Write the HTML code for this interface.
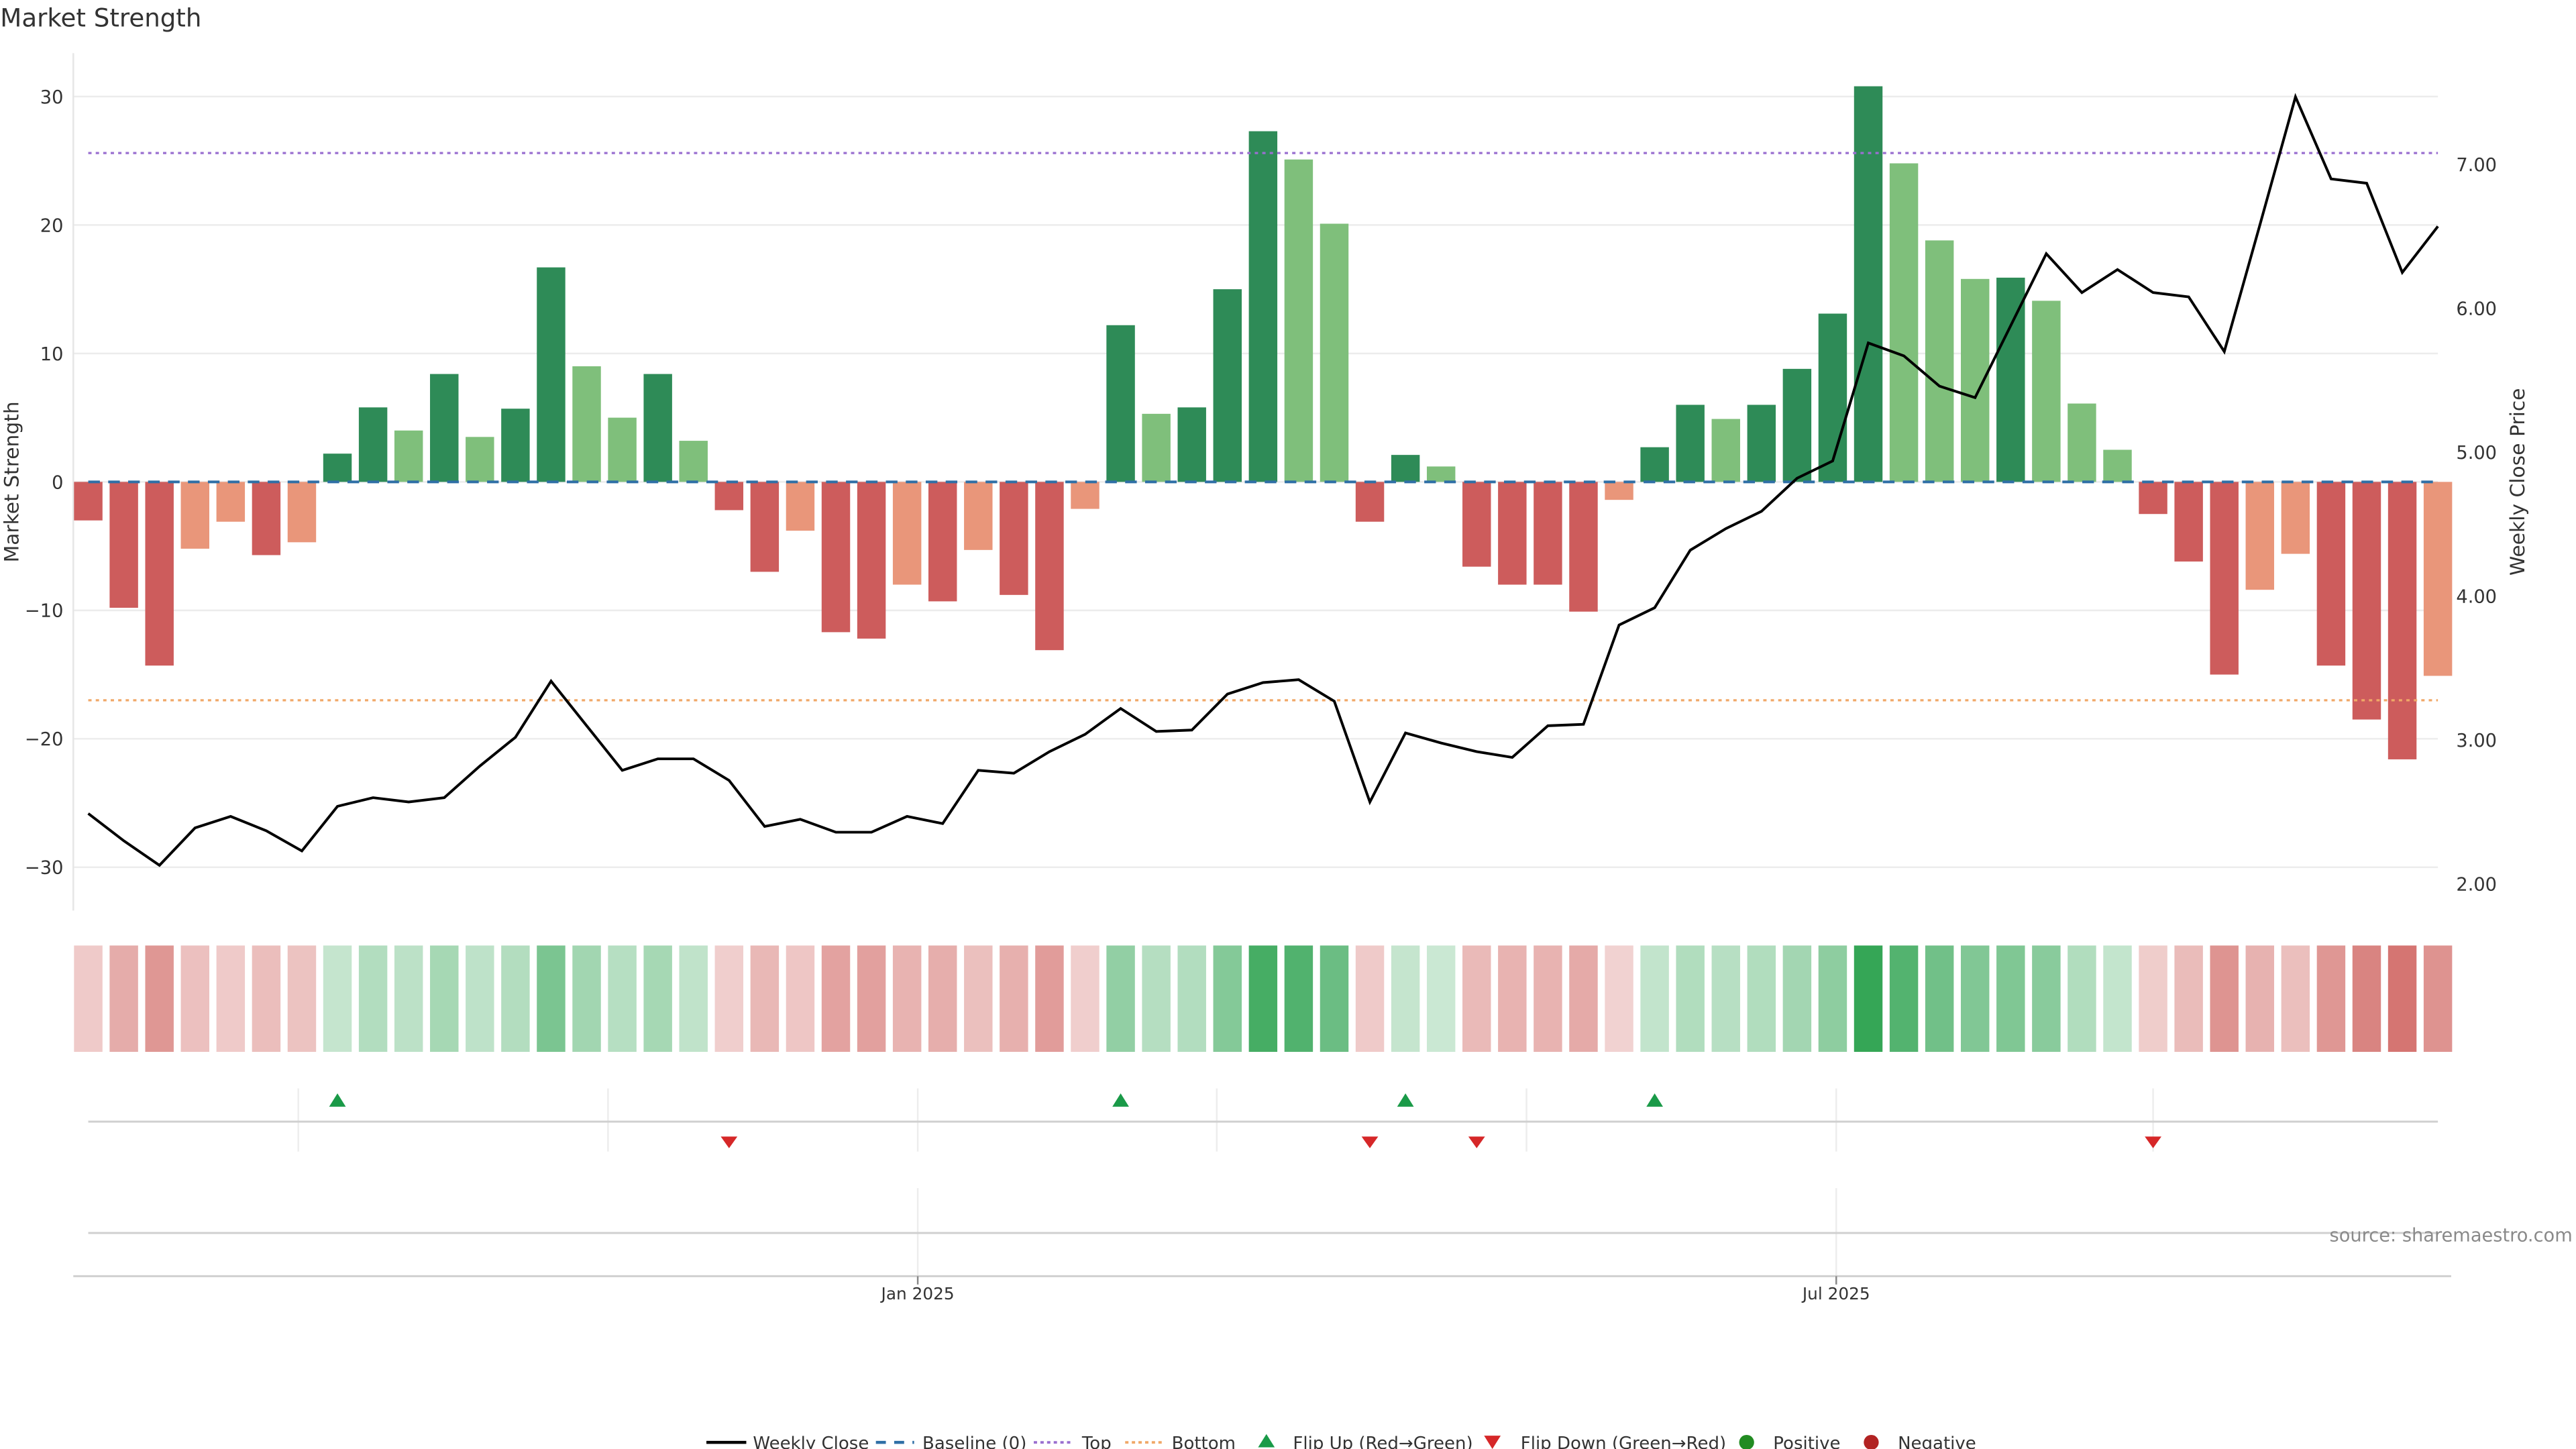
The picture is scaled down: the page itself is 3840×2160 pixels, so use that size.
<!DOCTYPE html>
<html><head><meta charset="utf-8"><title>Market Strength</title>
<style>html,body{margin:0;padding:0;background:#fff;}svg{display:block;font-family:"DejaVu Sans","Liberation Sans",sans-serif;}</style>
</head><body>
<svg id="chart" width="3840" height="2160" viewBox="0 0 1550 872" xmlns="http://www.w3.org/2000/svg">
<rect width="1550" height="872" fill="#fff"/>
<text x="0" y="16" font-size="15" fill="#333">Market Strength</text>
<g id="main"></g>
</svg>
<script>
const strength = [-3.0,-9.8,-14.3,-5.2,-3.1,-5.7,-4.7,2.2,5.8,4.0,8.4,3.5,5.7,16.7,9.0,5.0,8.4,3.2,-2.2,-7.0,-3.8,-11.7,-12.2,-8.0,-9.3,-5.3,-8.8,-13.1,-2.1,12.2,5.3,5.8,15.0,27.3,25.1,20.1,-3.1,2.1,1.2,-6.6,-8.0,-8.0,-10.1,-1.4,2.7,6.0,4.9,6.0,8.8,13.1,30.8,24.8,18.8,15.8,15.9,14.1,6.1,2.5,-2.5,-6.2,-15.0,-8.4,-5.6,-14.3,-18.5,-21.6,-15.1];
const closePrice = [2.49,2.30,2.13,2.39,2.47,2.37,2.23,2.54,2.60,2.57,2.60,2.82,3.02,3.41,3.10,2.79,2.87,2.87,2.72,2.40,2.45,2.36,2.36,2.47,2.42,2.79,2.77,2.92,3.04,3.22,3.06,3.07,3.32,3.40,3.42,3.27,2.57,3.05,2.98,2.92,2.88,3.10,3.11,3.80,3.92,4.32,4.47,4.59,4.82,4.94,5.76,5.67,5.46,5.38,5.88,6.38,6.11,6.27,6.11,6.08,5.70,6.58,7.47,6.90,6.87,6.25,6.57];
const leftTicks = [30,20,10,0,-10,-20,-30];
const rightTicks = [7,6,5,4,3,2];
const topLevel = [25.6];
const bottomLevel = [-17.0];
const monthTickIdx = [5.9,14.6,23.3,31.7,40.4,49.1,58.0];
const dateLabels = ["Jan 2025","Jul 2025"];
const dateLabelIdx = [23.3,49.1];

const NS='http://www.w3.org/2000/svg';
const g=document.getElementById('main');
function el(tag,attrs,parent){const e=document.createElementNS(NS,tag);for(const k in attrs)e.setAttribute(k,attrs[k]);(parent||g).appendChild(e);return e;}
const N=strength.length;
const x0=53,x1=1467,step=(x1-x0)/(N-1);
const xs=i=>x0+i*step;
const yL=v=>290-v*7.73;
const yR=p=>99+(7-p)*86.6;
const bw=step*0.8;

// gridlines
leftTicks.forEach(t=>{
  const l=el('line',{x1:44,x2:1467,y1:yL(t),y2:yL(t),stroke:'#ececec','stroke-width':1});
  
  
  const tx=el('text',{x:38,y:yL(t)+4,'font-size':11,'text-anchor':'end',fill:'#333'});
  
  
  tx.textContent=t===0?'0':(t<0?'\u2212'+(-t):String(t));
});
rightTicks.forEach(t=>{
  const tx=el('text',{x:1478,y:yR(t)+4,'font-size':11,fill:'#333'});
  
  
  tx.textContent=t.toFixed(2);
});
const ax=el('line',{x1:44,x2:44,y1:32,y2:548,stroke:'#e6e6e6','stroke-width':1});



let t1=el('text',{x:0,y:0,'font-size':12,fill:'#333','text-anchor':'middle',transform:'translate(11,290) rotate(-90)'});


t1.textContent='Market Strength';
let t2=el('text',{x:0,y:0,'font-size':12,fill:'#333','text-anchor':'middle',transform:'translate(1519,290) rotate(-90)'});


t2.textContent='Weekly Close Price';

// bars
strength.forEach((v,i)=>{
  const prev=i>0?strength[i-1]:0;
  let c;
  if(v>=0) c=(i===0||v>=prev||prev<0)?'#2e8b57':'#7fbf7b';
  else c=(i===0||v<=prev||prev>=0)?'#cd5c5c':'#e9967a';
  const y=Math.min(yL(v),yL(0)),h=Math.abs(yL(v)-yL(0));
  const r=el('rect',{x:xs(i)-bw/2,y:y,width:bw,height:h,fill:c});
  
  
});
// levels
let bl=el('line',{x1:x0,x2:x1,y1:yL(0),y2:yL(0),stroke:'#2f6fa6','stroke-width':1.6,'stroke-dasharray':'7 5'});


let tl=el('line',{x1:x0,x2:x1,y1:yL(topLevel[0]),y2:yL(topLevel[0]),stroke:'#9a6fd0','stroke-width':1.3,'stroke-dasharray':'2 2.5'});


let bt=el('line',{x1:x0,x2:x1,y1:yL(bottomLevel[0]),y2:yL(bottomLevel[0]),stroke:'#f0a868','stroke-width':1.3,'stroke-dasharray':'2 2.5'});


// price line
let pl=el('polyline',{points:closePrice.map((p,i)=>xs(i)+','+yR(p)).join(' '),fill:'none',stroke:'#000','stroke-width':1.6,'stroke-linejoin':'miter'});



// heatmap
const mx=Math.max(...strength.map(Math.abs));
strength.forEach((v,i)=>{
  const r=Math.abs(v)/mx;
  const c=v>=0?`rgba(40,160,75,${0.22+0.72*r})`:`rgba(195,60,55,${0.2+0.72*r})`;
  const cell=el('rect',{x:xs(i)-bw/2,y:569,width:bw,height:64,fill:c});
  
  
});

// flip panel
monthTickIdx.forEach(m=>{
  const l=el('line',{x1:xs(m),x2:xs(m),y1:655,y2:693,stroke:'#ededed','stroke-width':1});
  
  
});
let fb=el('line',{x1:x0,x2:x1,y1:675,y2:675,stroke:'#d0d0d0','stroke-width':1.2});


for(let i=1;i<N;i++){
  const a=strength[i-1],b=strength[i],x=xs(i);
  if(a<0&&b>=0){
    const t=el('polygon',{points:`${x-5},666 ${x+5},666 ${x},658`,fill:'#1a9a48'});
    
    
  } else if(a>=0&&b<0){
    const t=el('polygon',{points:`${x-5},684 ${x+5},684 ${x},691`,fill:'#d62728'});
    
    
  }
}
// third panel
dateLabelIdx.forEach(m=>{
  const l=el('line',{x1:xs(m),x2:xs(m),y1:715,y2:768,stroke:'#ededed','stroke-width':1});
  
  
});
let pb=el('line',{x1:x0,x2:x1,y1:742,y2:742,stroke:'#d0d0d0','stroke-width':1.2});


let xa=el('line',{x1:44,x2:1475,y1:768,y2:768,stroke:'#d0d0d0','stroke-width':1.2});


dateLabels.forEach((d,k)=>{
  const x=xs(dateLabelIdx[k]);
  const tk=el('line',{x1:x,x2:x,y1:768,y2:773,stroke:'#888','stroke-width':1});
  
  
  const tx=el('text',{x:x,y:782,'font-size':10,'text-anchor':'middle',fill:'#333'});
  
  
  tx.textContent=d;
});
let src=el('text',{x:1548,y:747,'font-size':11,'text-anchor':'end',fill:'#8a8a8a'});


src.textContent='source: sharemaestro.com';

// legend
const lg=el('g',{});


function ltext(x,s){const t=el('text',{x:x,y:872,'font-size':10.5,fill:'#333'},lg);t.textContent=s;}
el('line',{x1:425,x2:449,y1:868,y2:868,stroke:'#000','stroke-width':1.8},lg);ltext(453,'Weekly Close');
el('line',{x1:527,x2:550,y1:868,y2:868,stroke:'#2f6fa6','stroke-width':1.8,'stroke-dasharray':'6 5'},lg);ltext(555,'Baseline (0)');
el('line',{x1:622,x2:645,y1:868,y2:868,stroke:'#9a6fd0','stroke-width':1.5,'stroke-dasharray':'2 2'},lg);ltext(651,'Top');
el('line',{x1:677,x2:700,y1:868,y2:868,stroke:'#f0a868','stroke-width':1.5,'stroke-dasharray':'2 2'},lg);ltext(705,'Bottom');
el('polygon',{points:'757,871 767,871 762,863',fill:'#1a9a48'},lg);ltext(778,'Flip Up (Red\u2192Green)');
el('polygon',{points:'893,864 903,864 898,872',fill:'#d62728'},lg);ltext(915,'Flip Down (Green\u2192Red)');
el('circle',{cx:1051,cy:868,r:4.5,fill:'#228b22'},lg);ltext(1067,'Positive');
el('circle',{cx:1126,cy:868,r:4.5,fill:'#b22222'},lg);ltext(1142,'Negative');
</script>
</body></html>
